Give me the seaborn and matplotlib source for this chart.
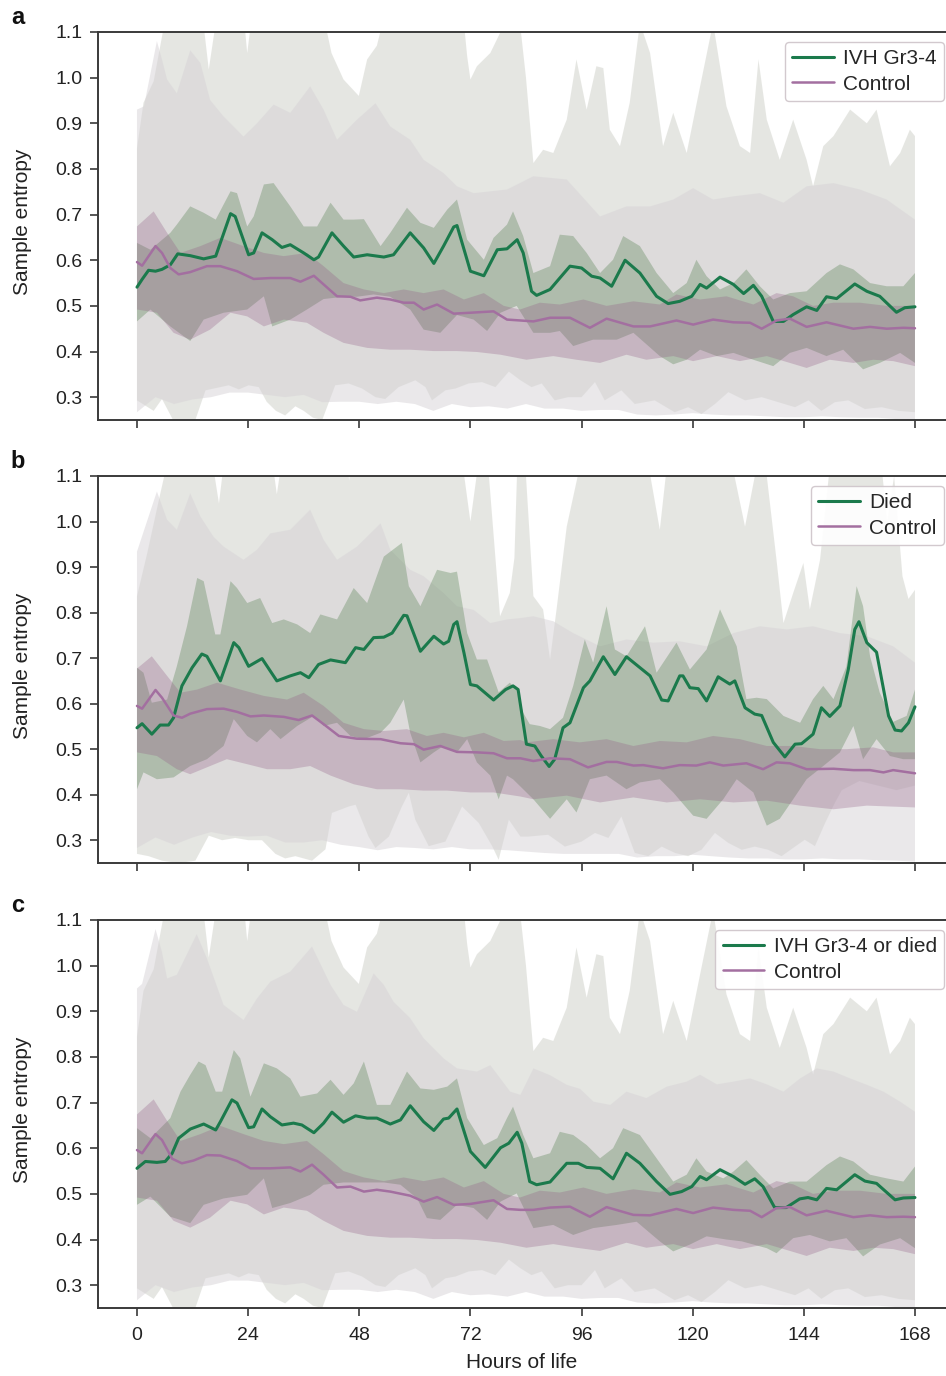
import matplotlib
matplotlib.use("Agg")
import matplotlib.pyplot as plt
import seaborn as sns
import pandas as pd

# ---------------- data (hours of life, sample entropy) ----------------
# Panel a : IVH Gr3-4 median
A_GMED_H = [0,1.1,2.5,4,5.4,7.2,8.8,11.5,14.4,17,20.2,21.2,24.1,25.2,27,29.2,31.3,33.1,36,38.2,39.2,42.1,44.6,46.8,49.7,53.3,55.4,59,61.9,64.1,66.2,68.4,69.1,72,74.9,77.8,79.9,82.1,83.4,85.2,86.3,89.2,91.3,93.5,96,98.2,100,102.5,105.4,108.6,112.2,114.7,117.2,119.8,121.6,123,125.9,128.8,131,133.1,134.9,137.4,139.6,141.7,144.6,146.8,148.9,151.1,155,157.6,160.4,164,165.8,168]
A_GMED = [0.541,0.558,0.578,0.576,0.58,0.59,0.614,0.61,0.603,0.609,0.702,0.696,0.612,0.616,0.66,0.645,0.628,0.634,0.616,0.601,0.607,0.66,0.631,0.607,0.612,0.607,0.612,0.66,0.627,0.593,0.631,0.673,0.676,0.576,0.566,0.623,0.625,0.645,0.616,0.532,0.523,0.536,0.561,0.587,0.583,0.565,0.561,0.543,0.6,0.572,0.521,0.505,0.51,0.521,0.547,0.539,0.563,0.547,0.527,0.545,0.521,0.466,0.466,0.481,0.498,0.49,0.52,0.516,0.548,0.532,0.521,0.486,0.496,0.498]
A_GIQR_UP_H = [0,2.9,7.2,8.6,11.5,14.4,17,20.2,21.6,23.8,25.2,27.4,29.5,33.1,36,38.9,41.8,44.6,46.8,49,52.6,54.7,58.3,61.2,64.1,67,69.1,71.3,74.9,77,79.9,81.2,83.4,85.6,89.2,91.3,94.2,97.1,100,102.8,105,108.6,112.2,115.8,118.7,120.8,123,125.9,128.8,131.6,134.5,137.4,141,144.6,148.9,151.8,154.7,158.3,161.9,165.5,168]
A_GIQR_UP = [0.638,0.623,0.66,0.678,0.718,0.704,0.689,0.751,0.747,0.674,0.696,0.766,0.769,0.718,0.674,0.674,0.726,0.689,0.689,0.69,0.631,0.66,0.715,0.682,0.671,0.711,0.733,0.645,0.601,0.649,0.678,0.707,0.653,0.572,0.587,0.656,0.653,0.616,0.572,0.601,0.653,0.631,0.572,0.528,0.55,0.601,0.565,0.536,0.55,0.58,0.543,0.514,0.528,0.532,0.572,0.591,0.58,0.55,0.543,0.543,0.572]
A_GIQR_LO_H = [0,2.9,7.2,11.5,14.4,18.7,23.8,27.4,29.2,33.1,36.7,40.3,44.6,47.5,51.1,54.7,59,61.9,65.5,69.1,72.7,75.6,78.5,82,85.6,89.2,91.3,94.2,98.5,103.6,107.2,112.9,115.8,118.7,121.6,125.2,128.8,133.1,137.4,141,144.6,148.9,152.5,156.8,160.4,164.8,168]
A_GIQR_LO = [0.466,0.492,0.455,0.423,0.47,0.485,0.492,0.521,0.455,0.47,0.492,0.515,0.52,0.52,0.525,0.52,0.492,0.448,0.441,0.48,0.47,0.445,0.485,0.5,0.441,0.441,0.445,0.412,0.426,0.426,0.441,0.39,0.372,0.382,0.404,0.39,0.397,0.382,0.368,0.397,0.408,0.39,0.404,0.361,0.375,0.397,0.375]
# Control (panels a and c) median
A_PMED_H = [0,1.1,4,5.4,7.2,9,11.5,15.1,18,21.6,25.2,28.8,33.1,35.3,38.2,40.3,43.2,46.1,48.2,51.8,54.7,57.6,59.8,61.9,64.8,68.4,72,77,79.9,82.8,85.6,89.2,93.5,97.8,101.4,107.2,110.8,116.5,120.1,124.4,128.8,132.4,134.9,138.1,141,144.6,148.9,154.7,158.3,161.9,165.5,168]
A_PMED = [0.596,0.588,0.631,0.616,0.583,0.569,0.574,0.587,0.587,0.576,0.559,0.561,0.561,0.553,0.566,0.547,0.521,0.52,0.512,0.518,0.514,0.507,0.507,0.492,0.503,0.483,0.485,0.488,0.47,0.468,0.466,0.474,0.474,0.452,0.472,0.455,0.455,0.468,0.459,0.47,0.464,0.463,0.45,0.468,0.472,0.454,0.464,0.45,0.454,0.45,0.452,0.451]
AC_PIQR_UP_H = [0,3.6,6.5,9.4,13.7,18,23,27.4,31.7,36.7,40.3,44.6,49,53.3,57.6,61.9,66.2,70.6,74.9,79.2,82.7,87,91.3,96.4,101.4,107.2,112.9,116.5,121.6,127.3,133.1,138.1,141.7,146,150.4,156.1,161.9,168]
AC_PIQR_UP = [0.674,0.707,0.66,0.616,0.631,0.649,0.631,0.616,0.609,0.616,0.587,0.55,0.536,0.528,0.536,0.528,0.536,0.514,0.528,0.5,0.492,0.507,0.503,0.514,0.5,0.51,0.503,0.525,0.514,0.521,0.503,0.528,0.521,0.5,0.507,0.507,0.5,0.5]
AC_PIQR_LO_H = [0,4.3,7.9,11.5,15.8,20.2,23.8,27.4,31.7,36.7,40.3,44.6,49.7,54.7,59,64.1,69.1,73.4,78.5,84.1,89.9,94.9,100,105.7,110,115.8,120.1,125.2,130.2,136,141,144.6,149.6,154.7,159,163.3,168]
AC_PIQR_LO = [0.492,0.485,0.441,0.426,0.448,0.485,0.477,0.455,0.47,0.463,0.441,0.419,0.408,0.404,0.404,0.401,0.401,0.399,0.393,0.382,0.39,0.382,0.375,0.393,0.382,0.39,0.379,0.39,0.379,0.39,0.375,0.364,0.382,0.375,0.382,0.379,0.368]
# outer (wide) ranges, panels a and c
AC_GOUT_UP_H = [0,1.4,3.6,6.5,10,14,15.5,17,20,23.2,23.8,25,30,36,40,42,44.6,47.9,49.7,51.8,55,62,68,70.6,71.3,72,73.4,76.3,78.5,80,82.7,84,85.6,87.7,89.9,92.8,94.9,97.1,99.2,100.7,102.1,104.3,106.4,108.6,110.8,113.6,115.8,118.7,121.6,124.4,127.3,130.2,132.4,134.2,136,138.8,141.7,144.6,146,148.2,150.4,154,157.6,159.7,162.6,164.8,166.9,168]
AC_GOUT_UP = [0.845,0.945,0.992,1.15,1.2,1.15,1.018,1.12,1.2,1.12,1.054,1.15,1.2,1.2,1.15,1.054,0.996,0.96,1.04,1.07,1.2,1.2,1.2,1.12,1.047,0.996,1.025,1.054,1.1,1.15,1.12,1.0,0.813,0.842,0.835,0.908,1.04,0.93,1.025,1.021,0.886,0.85,0.945,1.12,1.054,0.85,0.923,0.835,0.981,1.12,0.937,0.85,0.835,1.04,0.908,0.82,0.908,0.82,0.762,0.85,0.872,0.93,0.9,0.93,0.806,0.835,0.886,0.872]
A_POUT_UP_H = [0,1.5,4.3,5.4,6.5,8.6,11.5,13.7,15.8,18.7,23,25.9,29.5,33.1,37.4,40.3,43.2,47.5,51.5,54.7,59,61.9,66.2,69.1,72.7,76.3,79.9,85.6,92.8,100,105.7,110.8,115.8,120.1,124.4,128.8,134.5,139.6,144.6,150.4,156.1,161.9,168]
A_POUT_UP = [0.93,0.937,1.08,1.04,0.996,0.966,1.06,1.032,0.951,0.915,0.871,0.9,0.941,0.923,0.981,0.93,0.864,0.908,0.944,0.893,0.864,0.82,0.791,0.762,0.747,0.751,0.755,0.784,0.777,0.696,0.718,0.718,0.733,0.758,0.733,0.74,0.747,0.726,0.762,0.769,0.755,0.733,0.689]
AC_GOUT_LO_H = [0,3.6,5.4,8.3,10.5,12.6,14.8,19.8,22,24.1,26.3,28,30,32,34.2,36,38,40,42.8,45.7,48.6,51.5,53.6,56.5,60.1,62.3,63.7,66.6,68.8,71.6,74.5,77.4,80.3,82.8,85.2,87.4,90.2,93.1,96,98.9,101,104.6,107.5,111.8,116.1,119,121.9,124.8,127.7,131.3,134.9,138.5,142.1,145,147.8,150.7,153.6,157.2,160.8,164.4,168]
AC_GOUT_LO = [0.293,0.27,0.296,0.24,0.235,0.25,0.315,0.326,0.317,0.326,0.322,0.29,0.27,0.26,0.28,0.27,0.255,0.25,0.326,0.33,0.319,0.30,0.296,0.322,0.337,0.322,0.293,0.315,0.319,0.33,0.333,0.322,0.356,0.337,0.322,0.33,0.293,0.30,0.30,0.333,0.293,0.315,0.285,0.293,0.267,0.278,0.263,0.285,0.311,0.293,0.30,0.289,0.278,0.293,0.27,0.289,0.293,0.274,0.278,0.27,0.267]
OUT_LO_GRID = [0,4,8,12,16,20,24,28,32,36,40,44,48,52,56,60,64,68,72,76,80,84,88,92,96,100,104,108,112,116,120,124,128,132,136,140,144,148,152,156,160,164,168]
AC_POUT_LO = [0.267,0.30,0.285,0.295,0.30,0.31,0.31,0.305,0.30,0.305,0.289,0.29,0.29,0.285,0.29,0.285,0.27,0.285,0.278,0.28,0.275,0.285,0.275,0.275,0.27,0.272,0.272,0.262,0.26,0.262,0.265,0.262,0.26,0.26,0.258,0.256,0.256,0.258,0.256,0.255,0.255,0.252,0.25]

# Panel b : Died
B_GMED_H = [0,1.1,3.2,5,6.8,7.9,9.7,11.9,14,15.1,18,20.9,22,24.1,27,30.2,33.1,35.3,37.1,39.2,41.8,45,47.2,49,51.1,53.3,55.1,57.6,58.3,61.2,64.1,66.2,67.3,68.4,69.1,70.6,72,73.4,77,79.6,81.2,82.3,84.1,85.9,87.3,89,90.2,92,93.5,96.4,97.8,100.7,103.2,105.7,110.8,113.3,114.7,117.2,117.9,119.4,121.2,123,125.5,128,129.1,131.3,133.4,134.9,137.4,139.9,142.1,143.5,146,147.8,149.6,151.8,153.6,155,155.9,157.6,159.7,162.3,163.7,165.1,166.6,168]
B_GMED = [0.547,0.556,0.533,0.553,0.553,0.569,0.639,0.679,0.709,0.704,0.65,0.734,0.723,0.682,0.699,0.65,0.661,0.668,0.657,0.686,0.696,0.69,0.723,0.719,0.745,0.746,0.755,0.794,0.793,0.715,0.748,0.731,0.737,0.774,0.78,0.712,0.642,0.639,0.608,0.631,0.639,0.631,0.511,0.507,0.485,0.462,0.478,0.547,0.558,0.635,0.65,0.703,0.664,0.703,0.661,0.608,0.606,0.661,0.661,0.635,0.633,0.606,0.659,0.643,0.65,0.591,0.577,0.574,0.515,0.483,0.511,0.512,0.533,0.591,0.572,0.595,0.675,0.763,0.78,0.734,0.713,0.573,0.542,0.54,0.558,0.593]
B_GIQR_UP_H = [0,1.4,3.2,6.5,8.6,10.8,13,14.4,16.9,18,20.2,21.6,23.8,26.6,29.2,31.7,34.6,37.4,39.6,43.2,46.8,49.7,53.3,57.2,58.7,61.2,64.8,67.7,69.1,71.3,73.4,75.6,78.1,80.5,82,83.4,84.8,87,89.2,92,94.2,96.7,98.5,101.4,103.2,105.7,109.7,112.2,116.5,119.4,123,125.9,129.5,131.6,133.8,136,139.6,143.2,146,148.2,150.4,153.2,155.4,156.8,158.3,160.4,163.3,166.2,168]
B_GIQR_UP = [0.679,0.668,0.602,0.609,0.682,0.77,0.876,0.869,0.752,0.752,0.869,0.854,0.821,0.832,0.777,0.785,0.774,0.755,0.796,0.785,0.854,0.821,0.923,0.953,0.858,0.814,0.894,0.887,0.89,0.755,0.697,0.697,0.625,0.646,0.631,0.58,0.555,0.551,0.544,0.569,0.639,0.741,0.69,0.814,0.719,0.704,0.77,0.668,0.734,0.675,0.719,0.807,0.726,0.61,0.613,0.61,0.573,0.558,0.61,0.639,0.61,0.682,0.858,0.814,0.704,0.624,0.56,0.573,0.631]
B_GIQR_LO_H = [0,1.4,4.3,7.9,11.5,15.1,18.7,20.9,23.8,25.9,28.8,31,34.6,38.2,40.3,43.2,46.1,49,52.6,54.7,57.6,59,61.2,64.1,66.2,69.1,71.3,73.4,76.3,78.1,79.9,81.2,85.6,89.2,92.8,94.9,97.8,101.4,105.7,108.6,112.9,115.8,120.1,123,126.6,129.5,133.1,136,138.8,141.7,144.6,148.2,151.8,154.7,156.8,159.7,162.6,165.5,168]
B_GIQR_LO = [0.412,0.449,0.434,0.438,0.463,0.478,0.507,0.566,0.529,0.515,0.544,0.522,0.551,0.573,0.551,0.558,0.529,0.522,0.536,0.558,0.609,0.536,0.471,0.493,0.507,0.493,0.522,0.471,0.442,0.39,0.442,0.434,0.39,0.347,0.39,0.361,0.434,0.442,0.412,0.427,0.434,0.405,0.354,0.347,0.39,0.434,0.405,0.332,0.347,0.39,0.434,0.463,0.493,0.551,0.478,0.522,0.485,0.478,0.478]
B_PMED_H = [0,1.1,4,5.4,7.9,9.7,11.5,15.1,18.7,21.6,24.5,27.4,31.7,34.9,37.8,40.3,43.6,47.5,52.6,56.9,59.8,61.9,65.5,69.1,73.4,77,79.9,82.8,85.6,89.2,93.5,97.4,101.4,103.6,107.2,109.3,113.6,117.2,120.8,123.7,126.6,131.6,135.2,138.1,141,144.6,150.4,154.7,158.3,161.2,163.3,168]
B_PMED = [0.595,0.589,0.63,0.613,0.574,0.569,0.578,0.588,0.589,0.582,0.572,0.574,0.571,0.564,0.574,0.555,0.529,0.523,0.522,0.513,0.511,0.499,0.507,0.494,0.493,0.491,0.48,0.48,0.474,0.48,0.478,0.46,0.472,0.472,0.464,0.465,0.458,0.465,0.464,0.471,0.464,0.469,0.456,0.471,0.469,0.456,0.457,0.454,0.454,0.449,0.454,0.447]
B_PIQR_UP_H = [0,3.2,6.5,9.4,13,17.3,22.3,27.4,32.4,36,40.3,44.6,49,53.3,58.3,62.6,66.2,70.6,74.9,79.2,82.8,84.1,89.9,95.6,101.4,107.2,112.9,118.7,124.4,130.2,136,141.7,147.5,153.2,159,163.3,168]
B_PIQR_UP = [0.677,0.704,0.661,0.624,0.631,0.646,0.631,0.617,0.609,0.624,0.595,0.558,0.544,0.54,0.544,0.529,0.536,0.526,0.536,0.518,0.52,0.515,0.522,0.515,0.522,0.507,0.518,0.515,0.529,0.522,0.507,0.507,0.5,0.5,0.504,0.493,0.493]
B_PIQR_LO_H = [0,4.3,8.6,11.5,15.8,19.4,23.8,28.1,33.1,37.4,41.8,46.8,51.8,56.9,61.9,67,72,77,82.8,85.6,92.8,100,107.2,114.4,121.6,128.8,136,143.2,150.4,157.6,168]
B_PIQR_LO = [0.493,0.485,0.456,0.445,0.463,0.478,0.467,0.456,0.456,0.463,0.442,0.423,0.412,0.412,0.409,0.409,0.405,0.405,0.396,0.39,0.398,0.383,0.394,0.383,0.39,0.383,0.387,0.376,0.368,0.376,0.372]
B_GOUT_UP_H = [0,2.2,5,7,12,16,17.7,19,24,29,30.2,31.5,36,45,45.8,47,55,65,70,72,74,76,78.4,80.5,81.5,82.2,84,85.6,87.7,89.2,90.6,92.8,95.6,100,110,112.9,114.4,118,128,131.3,133.8,136,138.1,139.6,141.7,143.9,145.3,147.5,149.6,152,160,162,163.5,165.3,166.6,168]
B_GOUT_UP = [0.836,0.93,1.06,1.15,1.2,1.15,1.04,1.15,1.2,1.15,1.06,1.15,1.2,1.2,1.09,1.2,1.2,1.2,1.15,1.0,1.15,1.1,0.792,0.843,0.92,1.15,1.1,0.836,0.807,0.697,0.807,0.989,1.12,1.2,1.15,0.982,1.12,1.2,1.15,0.989,1.12,1.1,0.916,0.777,0.843,0.909,0.807,0.916,1.12,1.2,1.2,1.0,1.1,0.88,0.83,0.85]
B_POUT_UP_H = [0,4.3,6.5,8.6,11.5,13.7,16.5,18.7,23,25.9,28.8,33.1,37.4,40.3,43.2,47.5,52.6,54.7,59,61.9,66.2,69.1,72.7,76.3,79.9,82.8,85.6,89.9,94.2,100,105.7,111.5,117.2,123,128.8,134.5,140.3,146,151.8,157.6,163.3,168]
B_POUT_UP = [0.934,1.066,1.004,0.982,1.062,1.011,0.967,0.945,0.916,0.938,0.974,0.982,1.026,0.96,0.916,0.945,0.996,0.938,0.894,0.88,0.843,0.814,0.806,0.777,0.785,0.788,0.792,0.781,0.755,0.726,0.741,0.734,0.737,0.726,0.755,0.77,0.763,0.77,0.755,0.748,0.726,0.69]
B_GOUT_LO_H = [0,2.5,5.4,9,12.6,15.5,18.4,21.2,24.1,27,29.9,32,34.2,37.8,40.7,42.1,45.7,47.2,50,51.5,54.4,57.2,58.7,60.1,63,66.6,70.2,73.8,76.7,78.1,80.3,82.8,84.5,88.8,92.4,96,98.9,101.8,104.6,107.5,110.4,113.3,116.2,119,121.9,124.8,127.7,130.6,133.4,136.3,139.2,142.1,144.2,146.4,148.6,150.7,152.2,156,160,164,168]
B_GOUT_LO = [0.27,0.265,0.255,0.25,0.255,0.31,0.30,0.305,0.30,0.30,0.27,0.26,0.265,0.255,0.28,0.36,0.374,0.378,0.308,0.283,0.308,0.374,0.404,0.345,0.287,0.297,0.374,0.338,0.287,0.257,0.345,0.308,0.308,0.312,0.286,0.297,0.316,0.305,0.352,0.272,0.265,0.286,0.272,0.265,0.279,0.316,0.294,0.279,0.286,0.279,0.265,0.286,0.301,0.287,0.338,0.382,0.41,0.43,0.42,0.41,0.42]
B_POUT_LO = [0.283,0.306,0.29,0.306,0.318,0.31,0.308,0.31,0.295,0.295,0.30,0.29,0.285,0.278,0.285,0.283,0.28,0.285,0.28,0.28,0.278,0.275,0.272,0.27,0.27,0.27,0.27,0.262,0.265,0.265,0.268,0.265,0.262,0.26,0.26,0.258,0.258,0.26,0.258,0.258,0.256,0.255,0.253]

# Panel c : IVH Gr3-4 or died
C_GMED_H = [0,1.8,4.3,6.1,7.6,9,11.5,14.4,17,18,20.5,21.6,24.1,25.2,27,28.8,31.3,33.8,35.6,38.2,40.3,42.1,44.6,47.2,49.7,51.8,54.7,56.9,59,61.9,64.1,66.2,67.3,69.1,72,75.2,78.5,80.3,82.1,83.1,84.8,86.3,89.2,92.8,95.3,97.1,100,102.8,105.7,108.6,112.2,115.1,117.6,119.8,121.6,123,125.9,128.8,131.3,133.4,135.2,137.7,140.2,143.1,144.9,146.8,148.9,151.1,155,157.2,159.7,163.7,165.5,168]
C_GMED = [0.556,0.571,0.569,0.571,0.589,0.622,0.642,0.653,0.64,0.658,0.706,0.699,0.645,0.647,0.686,0.669,0.651,0.655,0.651,0.634,0.655,0.679,0.657,0.671,0.666,0.666,0.653,0.662,0.693,0.658,0.639,0.664,0.666,0.686,0.593,0.558,0.601,0.611,0.635,0.611,0.527,0.52,0.526,0.567,0.567,0.558,0.556,0.533,0.589,0.567,0.527,0.499,0.505,0.516,0.538,0.531,0.553,0.538,0.521,0.533,0.516,0.47,0.47,0.489,0.492,0.487,0.512,0.509,0.542,0.528,0.523,0.487,0.491,0.492]
C_GIQR_UP_H = [0,2.9,7.2,9.4,11.5,13.3,14.8,17,18.4,20.9,22.3,24.5,27.4,30.2,33.1,35.3,38.9,41.8,44.6,46.8,49,51.8,54.7,58.3,61.2,64.1,67,69.1,71.3,74.9,77.8,79.9,81.2,83.4,85.6,89.2,91.3,94.2,97.1,100,102.8,105,108.6,112.2,115.8,118.7,120.8,123,126.6,128.8,131.6,134.5,137.4,141,144.6,148.9,151.8,154.7,158.3,161.9,165.5,168]
C_GIQR_UP = [0.644,0.622,0.666,0.724,0.761,0.79,0.782,0.724,0.724,0.815,0.797,0.713,0.786,0.775,0.753,0.713,0.72,0.75,0.717,0.742,0.79,0.695,0.695,0.768,0.731,0.728,0.735,0.753,0.666,0.607,0.622,0.666,0.691,0.629,0.578,0.589,0.636,0.629,0.607,0.578,0.6,0.644,0.629,0.578,0.527,0.542,0.578,0.549,0.534,0.549,0.574,0.542,0.512,0.527,0.527,0.563,0.582,0.571,0.542,0.534,0.527,0.56]
C_GIQR_LO_H = [0,2.9,7.2,11.5,14.4,18.7,23.8,27.4,29.2,33.1,37.4,40.3,44.6,49,53.3,56.9,60.5,62.6,65.5,69.1,72.7,75.6,78.5,82,85.6,89.9,94.2,98.5,103.6,107.9,112.9,115.8,119.4,123,127.3,130.6,136,138.1,141.7,145.3,149.6,153.2,156.8,160.4,164.8,168]
C_GIQR_LO = [0.476,0.494,0.45,0.436,0.476,0.49,0.498,0.534,0.469,0.48,0.498,0.52,0.525,0.525,0.525,0.52,0.49,0.447,0.443,0.476,0.469,0.443,0.483,0.501,0.425,0.432,0.41,0.425,0.432,0.439,0.396,0.374,0.389,0.407,0.4,0.396,0.381,0.37,0.403,0.41,0.396,0.403,0.363,0.389,0.403,0.381]
C_PMED_H = [0,1.1,4,5.4,7.6,9.7,12.2,15.1,18,21.6,24.5,28.8,33.1,35.3,37.8,40.3,43.2,46.1,49,51.8,54.7,59,61.9,64.8,68.4,72,77,79.9,82.8,85.6,89.2,93.5,97.8,101.4,107.2,110.8,116.5,120.1,124.4,128.8,132.4,134.9,138.1,141,144.6,148.9,154.7,158.3,161.9,165.5,168]
C_PMED = [0.596,0.589,0.631,0.618,0.577,0.567,0.573,0.585,0.584,0.572,0.556,0.556,0.558,0.549,0.564,0.542,0.514,0.516,0.505,0.509,0.505,0.496,0.483,0.493,0.476,0.478,0.486,0.467,0.465,0.465,0.47,0.472,0.45,0.471,0.454,0.453,0.467,0.458,0.47,0.465,0.463,0.449,0.469,0.471,0.453,0.463,0.449,0.453,0.449,0.45,0.449]
C_POUT_UP_H = [0,1.1,4,5.4,6.5,8.6,12.9,15.1,18.7,23,25.9,28.8,33.1,37.8,41.8,44.6,47.5,51.1,53.3,55.4,59,61.9,66.2,69.1,73.4,76.3,80.6,82.8,85.6,89.2,92.8,95.7,98.6,102.2,105.7,110,114.4,118.7,121.6,125.2,128.8,132.4,136,139.6,143.2,146.8,150.4,154,157.6,161.2,164.8,168]
C_POUT_UP = [0.95,0.96,1.08,1.03,0.972,0.98,1.069,1.016,0.914,0.881,0.928,0.965,0.987,1.042,0.958,0.914,0.899,0.983,0.958,0.921,0.885,0.841,0.797,0.775,0.768,0.782,0.724,0.717,0.775,0.76,0.739,0.73,0.702,0.695,0.724,0.71,0.735,0.746,0.761,0.74,0.746,0.753,0.74,0.724,0.753,0.775,0.768,0.753,0.739,0.724,0.702,0.68]

YTICKS = [0.3, 0.4, 0.5, 0.6, 0.7, 0.8, 0.9, 1.0, 1.1]
XTICKS = [0, 24, 48, 72, 96, 120, 144, 168]
PANEL_LETTERS = ["a", "b", "c"]
CASE_LABELS = ["IVH Gr3-4", "Died", "IVH Gr3-4 or died"]
CONTROL_LABEL = "Control"

# ---------------- style ----------------
GREEN = "#1b7a4c"
PURPLE = "#a36fa0"
G_OUT_C, G_OUT_A = "#cdcfc7", 0.5
P_OUT_C, P_OUT_A = "#d6d2d6", 0.5
G_IQR_C, G_IQR_A = "#457541", 0.30
P_IQR_C, P_IQR_A = "#925f86", 0.30
SPINE = "#3a3a3a"

sns.set_theme(style="ticks")
plt.rcParams['font.family'] = ['Liberation Sans', 'DejaVu Sans']

panels = [
    dict(gmed=(A_GMED_H, A_GMED), pmed=(A_PMED_H, A_PMED),
         giqr=(A_GIQR_UP_H, A_GIQR_UP, A_GIQR_LO_H, A_GIQR_LO),
         piqr=(AC_PIQR_UP_H, AC_PIQR_UP, AC_PIQR_LO_H, AC_PIQR_LO),
         gout=(AC_GOUT_UP_H, AC_GOUT_UP, AC_GOUT_LO_H, AC_GOUT_LO),
         pout=(A_POUT_UP_H, A_POUT_UP, OUT_LO_GRID, AC_POUT_LO)),
    dict(gmed=(B_GMED_H, B_GMED), pmed=(B_PMED_H, B_PMED),
         giqr=(B_GIQR_UP_H, B_GIQR_UP, B_GIQR_LO_H, B_GIQR_LO),
         piqr=(B_PIQR_UP_H, B_PIQR_UP, B_PIQR_LO_H, B_PIQR_LO),
         gout=(B_GOUT_UP_H, B_GOUT_UP, B_GOUT_LO_H, B_GOUT_LO),
         pout=(B_POUT_UP_H, B_POUT_UP, OUT_LO_GRID, B_POUT_LO)),
    dict(gmed=(C_GMED_H, C_GMED), pmed=(C_PMED_H, C_PMED),
         giqr=(C_GIQR_UP_H, C_GIQR_UP, C_GIQR_LO_H, C_GIQR_LO),
         piqr=(AC_PIQR_UP_H, AC_PIQR_UP, AC_PIQR_LO_H, AC_PIQR_LO),
         gout=(AC_GOUT_UP_H, AC_GOUT_UP, AC_GOUT_LO_H, AC_GOUT_LO),
         pout=(C_POUT_UP_H, C_POUT_UP, OUT_LO_GRID, AC_POUT_LO)),
]


def band(ax, spec, color, alpha):
    uh, uv, lh, lv = spec
    xs = list(uh) + list(lh)[::-1]
    ys = list(uv) + list(lv)[::-1]
    ax.fill(xs, ys, color=color, alpha=alpha, lw=0, zorder=1)


W, H = 946, 1376
fig = plt.figure(figsize=(W / 100, H / 100), dpi=100)
tops = [32, 476, 920]
bottoms = [420, 863, 1308]
left_px, right_px = 98, 946

for i, p in enumerate(panels):
    ax = fig.add_axes([left_px / W, 1 - bottoms[i] / H,
                       (right_px - left_px) / W, (bottoms[i] - tops[i]) / H])
    band(ax, p["gout"], G_OUT_C, G_OUT_A)
    band(ax, p["pout"], P_OUT_C, P_OUT_A)
    band(ax, p["giqr"], G_IQR_C, G_IQR_A)
    band(ax, p["piqr"], P_IQR_C, P_IQR_A)
    gdf = pd.DataFrame({"hours": p["gmed"][0], "entropy": p["gmed"][1]})
    pdf = pd.DataFrame({"hours": p["pmed"][0], "entropy": p["pmed"][1]})
    sns.lineplot(data=gdf, x="hours", y="entropy", ax=ax, color=GREEN,
                 linewidth=2.2, estimator=None, label=CASE_LABELS[i], zorder=3)
    sns.lineplot(data=pdf, x="hours", y="entropy", ax=ax, color=PURPLE,
                 linewidth=1.8, estimator=None, label=CONTROL_LABEL, zorder=3)

    ax.set_xlim(-8.42, 174.7)
    ax.set_ylim(0.25, 1.1)
    ax.set_yticks(YTICKS)
    ax.set_yticklabels([f"{t:.1f}" for t in YTICKS])
    ax.set_xticks(XTICKS)
    if i < 2:
        ax.set_xticklabels([])
        ax.set_xlabel("")
    else:
        ax.set_xticklabels([str(t) for t in XTICKS])
        ax.set_xlabel("Hours of life", fontsize=15, labelpad=6, color="#222222")
    ax.set_ylabel("Sample entropy", fontsize=15, color="#222222")
    ax.yaxis.set_label_coords(-0.078, 0.51)
    ax.tick_params(axis="both", direction="out", length=6, width=1.2,
                   color=SPINE, labelsize=14, labelcolor="#222222")
    ax.tick_params(axis="x", pad=8)
    ax.tick_params(axis="y", pad=5)
    for side in ["top", "left", "bottom"]:
        ax.spines[side].set_color(SPINE)
        ax.spines[side].set_linewidth(1.4)
    ax.spines["right"].set_visible(False)

    leg = ax.legend(loc="upper right", bbox_to_anchor=(0.9976, 0.974),
                    borderaxespad=0, fontsize=15, frameon=True, fancybox=True,
                    framealpha=0.92, edgecolor="#cfc5ca", handlelength=2.0,
                    handletextpad=0.45, borderpad=0.35, labelspacing=0.3)
    leg.get_frame().set_linewidth(1.0)

    fig.text(18 / W, 1 - (tops[i] - 14) / H, PANEL_LETTERS[i], fontsize=17,
             fontweight="bold", ha="center", va="center", color="#111111")

fig.savefig("out.png", dpi=100)
